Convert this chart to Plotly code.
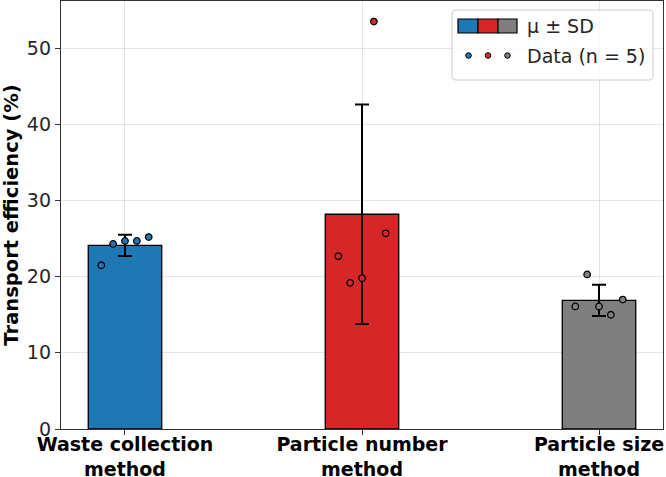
import numpy as np
import plotly.graph_objects as go

categories = ["Waste collection<br>method", "Particle number<br>method", "Particle size<br>method"]
means = [24.1, 28.2, 16.9]
sds = [1.4, 14.4, 2.05]
data_waste = [21.5, 24.3, 24.7, 24.7, 25.2]
data_number = [22.7, 19.2, 19.8, 53.5, 25.7]
data_size = [16.1, 20.3, 16.1, 15.0, 17.0]
colors = ["#1f77b4", "#d62728", "#7f7f7f"]
y_ticks = [0, 10, 20, 30, 40, 50]
legend_labels = ["μ ± SD", "Data (n = 5)"]

W, H = 666, 477
L, R, T, B = 61, 3, 1, 48
pw, ph = W - L - R, H - T - B

def px2paper(x, y):
    return (x - L) / pw, (H - B - y) / ph

fig = go.Figure()
xpos = np.arange(len(categories))
fig.add_trace(go.Bar(
    x=xpos, y=means, width=0.31,
    marker=dict(color=colors, line=dict(color="black", width=1.3)),
    error_y=dict(type="data", array=sds, visible=True, color="black", thickness=2, width=7),
    showlegend=False,
))
offsets = np.linspace(-0.1, 0.1, 5)
for i, d in enumerate([data_waste, data_number, data_size]):
    fig.add_trace(go.Scatter(
        x=xpos[i] + offsets, y=d, mode="markers",
        marker=dict(size=6.5, color=colors[i], line=dict(color="black", width=1.3)),
        showlegend=False,
    ))

# custom legend
shapes = []
x0, y0, x1, y1, r = 452, 10, 653, 80, 4
def P(x, y):
    a, b = px2paper(x, y)
    return f"{a:.5f},{b:.5f}"
path = (f"M {P(x0+r,y0)} L {P(x1-r,y0)} Q {P(x1,y0)} {P(x1,y0+r)} L {P(x1,y1-r)} "
        f"Q {P(x1,y1)} {P(x1-r,y1)} L {P(x0+r,y1)} Q {P(x0,y1)} {P(x0,y1-r)} "
        f"L {P(x0,y0+r)} Q {P(x0,y0)} {P(x0+r,y0)} Z")
shapes.append(dict(type="path", xref="paper", yref="paper", path=path,
                   fillcolor="rgba(255,255,255,0.85)", line=dict(color="#cccccc", width=1), layer="above"))
patch_x = [458, 478, 498, 517]
for i, c in enumerate(colors):
    a0, b0 = px2paper(patch_x[i], 33)
    a1, b1 = px2paper(patch_x[i + 1], 19)
    shapes.append(dict(type="rect", xref="paper", yref="paper", x0=a0, x1=a1, y0=b0, y1=b1,
                       fillcolor=c, line=dict(color="black", width=1.2), layer="above"))
for i, c in enumerate(colors):
    cx, cy = px2paper(468.5 + 19.5 * i, 55.5)
    shapes.append(dict(type="circle", xref="paper", yref="paper", xsizemode="pixel", ysizemode="pixel",
                       xanchor=cx, yanchor=cy, x0=-2.8, x1=2.8, y0=-2.8, y1=2.8,
                       fillcolor=c, line=dict(color="black", width=1), layer="above"))
annotations = []
for lab, yy in zip(legend_labels, [26, 56]):
    ax, ay = px2paper(525, yy)
    annotations.append(dict(x=ax, y=ay, xref="paper", yref="paper", text=lab, showarrow=False,
                            xanchor="left", yanchor="middle",
                            font=dict(family="DejaVu Sans", size=19, color="#262626")))

fig.update_layout(
    width=W, height=H, margin=dict(l=L, r=R, t=T, b=B),
    plot_bgcolor="white", paper_bgcolor="white",
    shapes=shapes, annotations=annotations,
    font=dict(family="DejaVu Sans", color="#262626"),
    xaxis=dict(range=[-0.27, 2.27], tickmode="array", tickvals=list(xpos), ticktext=categories,
               tickfont=dict(family="DejaVu Sans", size=19, color="black", weight="bold"),
               showgrid=True, gridcolor="rgba(170,170,170,0.3)", gridwidth=1,
               showline=True, linecolor="#333333", linewidth=1.3, mirror=True,
               ticks="outside", ticklen=5, tickcolor="#333333", layer="above traces",
               zeroline=False, automargin=False, ticklabelstandoff=-7),
    yaxis=dict(range=[0, 56.2], tickmode="array", tickvals=y_ticks,
               tickfont=dict(family="DejaVu Sans", size=19, color="#262626"),
               title=dict(text="<b>Transport efficiency (%)</b>", font=dict(family="DejaVu Sans", size=19.5, color="black"), standoff=4),
               showgrid=True, gridcolor="rgba(170,170,170,0.3)", gridwidth=1,
               showline=True, linecolor="#333333", linewidth=1.3, mirror=True,
               ticks="outside", ticklen=5, tickcolor="#333333", layer="above traces",
               zeroline=False, automargin=False),
)
fig.write_html("out.html", config={"displayModeBar": False},
               post_script="document.body.style.margin='0';document.body.style.overflow='hidden';")
